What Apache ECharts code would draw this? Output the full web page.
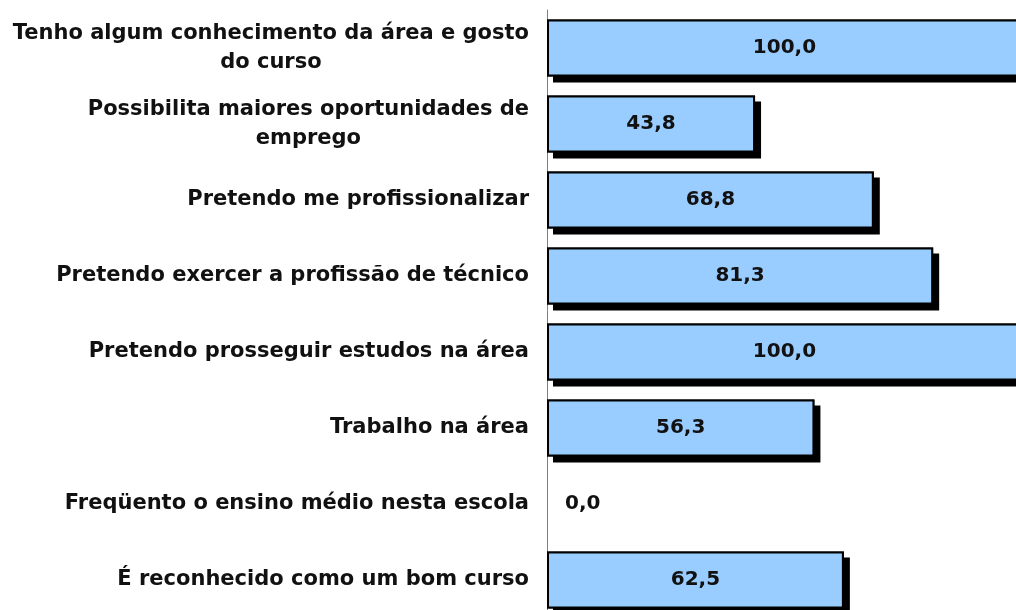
<!DOCTYPE html>
<html>
<head>
<meta charset="utf-8">
<script src="https://cdn.jsdelivr.net/npm/echarts@6/dist/echarts.min.js"></script>
<style>
  html, body { margin: 0; padding: 0; background: #fff; }
  #chart { width: 1016px; height: 610px; }
</style>
</head>
<body>
<div id="chart"></div>
<script>
const categories = [
  'Tenho algum conhecimento da área e gosto\ndo curso',
  'Possibilita maiores oportunidades de\nemprego',
  'Pretendo me profissionalizar',
  'Pretendo exercer a profissão de técnico',
  'Pretendo prosseguir estudos na área',
  'Trabalho na área',
  'Freqüento o ensino médio nesta escola',
  'É reconhecido como um bom curso'
]
const values = [100.0, 43.8, 68.8, 81.3, 100.0, 56.3, 0.0, 62.5]

const fmt = v => v.toFixed(1).replace('.', ',')

// back layer only casts the black drop shadow
const shadowData = values.map(v => v === 0
  ? { value: v, itemStyle: { shadowColor: 'rgba(0,0,0,0)' } }
  : v)

// zero bar: no box, label sits to the right of the axis
const barData = values.map(v => v === 0
  ? { value: v, itemStyle: { borderWidth: 0 }, label: { position: 'right', distance: 18 } }
  : v)

const chart = echarts.init(document.getElementById('chart'))

chart.setOption({
  animation: false,
  // plot runs a little past the right and bottom edges, like the original crop
  grid: { left: 547, width: 475, top: 10, height: 608, outerBoundsMode: 'none' },
  xAxis: {
    type: 'value',
    min: 0,
    max: 100,
    show: false
  },
  yAxis: {
    type: 'category',
    inverse: true,
    data: categories,
    axisLine: { lineStyle: { color: '#808080', width: 1 } },
    axisTick: { length: 6, lineStyle: { color: '#404040' } },
    axisLabel: {
      margin: 18,
      formatter: s => s.split('\n').map(l => '{c|' + l + '}').join('\n'),
      rich: {
        c: {
          align: 'center',
          color: '#111',
          fontFamily: 'DejaVu Sans',
          fontWeight: 'bold',
          fontSize: 21,
          lineHeight: 29
        }
      }
    }
  },
  series: [
    {
      type: 'bar',
      data: shadowData,
      barCategoryGap: '25%',
      silent: true,
      itemStyle: {
        color: '#000',
        shadowColor: '#000',
        shadowBlur: 0,
        shadowOffsetX: 6,
        shadowOffsetY: 6
      }
    },
    {
      type: 'bar',
      data: barData,
      barGap: '-100%',
      barCategoryGap: '25%',
      itemStyle: {
        color: '#99ccff',
        borderColor: '#000',
        borderWidth: 2
      },
      label: {
        show: true,
        position: 'inside',
        formatter: p => fmt(p.value),
        color: '#111',
        fontFamily: 'DejaVu Sans',
        fontWeight: 'bold',
        fontSize: 20
      }
    }
  ]
})
</script>
</body>
</html>
